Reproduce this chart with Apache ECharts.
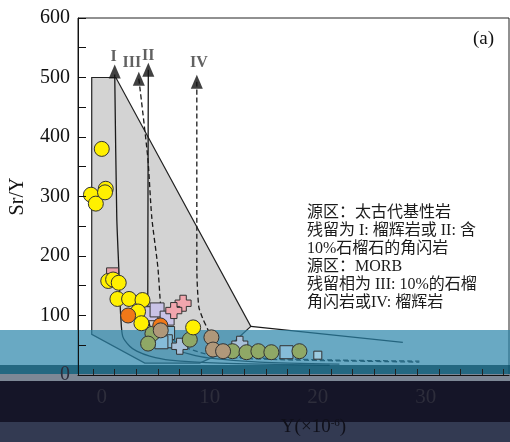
<!DOCTYPE html>
<html><head><meta charset="utf-8">
<script src="https://cdn.jsdelivr.net/npm/echarts@6/dist/echarts.min.js"></script>
<style>html,body{margin:0;padding:0;background:#fff}#c{width:510px;height:442px}</style>
</head><body><div id="c"></div>
<script>
// ---- data (x = Y ppm, y = Sr/Y) ----
const yellowPts = [[0,380],[-1.0,303],[-0.55,288],[0.37,313],[0.3,307],[0.6,158],[1.05,160.5],[1.57,155],[1.45,127.8],[2.53,127.8],[3.77,126],[3.36,106.7],[3.67,87],[8.46,80]];
const orangePts = [[2.44,100],[5.42,83.3]];
const greenPts = [[4.69,69.4],[4.29,52.8],[8.15,59.4],[12.1,40],[13.4,38.3],[14.5,40],[15.7,38.3],[18.3,40]];
const tanPts = [[5.46,75],[10.15,63.3],[10.3,42.8],[11.23,40]];
const lavenderSquares = [[4.55,103],[5.12,109.4],[6.05,95.6]];
const pinkSquares = [[1.0,170]];
const blueSquares = [[6.14,70.6],[5.93,56.7],[5.52,55],[17.1,38.3]];
const smallSquares = [[20.0,33.3]];
const pinkCrosses = [[7.53,120.6],[6.67,108.3]];
const blueCrosses = [[7.22,48.3],[12.78,51.7]];

const fieldPolygon = [[-0.93,500],[1.3,500],[13.8,81.7],[12.4,58.3],[11.1,36.7],[9.07,20],[3.98,20],[-0.93,68.3]];
const fieldTail = [[13.8,81.7],[27.87,55]];
const curveI = [[1.2,505],[1.39,265],[1.57,181.7],[1.67,131.7],[1.76,98.3],[1.94,65],[2.59,48.3],[3.24,40],[4.44,31.7],[6.3,25],[10.93,20],[21.1,16.7]];
const curveII = [[4.31,513],[4.28,300],[4.26,131.7],[4.35,90],[4.91,65],[6.48,45],[8.15,35],[10.0,28.3],[14.6,21.7],[22.0,18.3]];
const curveIII = [[3.43,498],[4.26,365],[4.63,265],[5.19,181.7],[5.46,115],[5.74,81.7],[6.76,56.7],[7.96,45],[9.72,35],[12.8,28.3],[18.3,25],[29.4,21.7]];
const curveIV = [[8.8,493],[8.8,181.7],[8.98,115],[9.35,95],[9.81,76.7],[10.28,56.7],[10.74,40],[11.85,31.7],[14.63,28.3],[22.0,25],[29.4,23.3]];
const arrowNames = ['I','II','III','IV'];
const arrowPts = [[1.2,510],[4.31,513],[3.43,498],[8.8,493]];

const xLabelValues = [0,10,20,30];
const xTickValues = [-0.8,1.2,3.2,5.2,7.2,9.2,11.2,13.2,15.2,17.2,19.2,21.2,23.2,25.2,27.2,29.2,31.2,33.2,35.2,37.2];
const yLabelValues = [0,100,200,300,400,500,600];
const yTickValues = [0,50,100,150,200,250,300,350,400,450,500,550,600];
const noteLines = ['源区：太古代基性岩','残留为 I: 榴辉岩或 II: 含','10%石榴石的角闪岩','源区：MORB','残留相为 III: 10%的石榴','角闪岩或IV: 榴辉岩'];

// ---- styles ----
const FONT = "'Liberation Serif','Noto Sans CJK SC',serif";
const CROSS = 'path://M3,0H7V3H10V7H7V10H3V7H0V3H3Z';
const arrowOffsets = [[-1,-15],[0,-14],[-7,-16],[2,-19]];

function curve(data, dashed){
  return {type:'line', data, z:2, symbol:'none', smooth:0.25, silent:true,
    lineStyle:{color:'#1a1a1a', width:1.3, type: dashed ? [5,3] : 'solid'}};
}
function pts(data, symbol, size, color, z){
  return {type:'scatter', data, symbol, symbolSize:size, z: z||4, silent:true,
    itemStyle:{color, borderColor:'#333', borderWidth:1, opacity:1}};
}

const chart = echarts.init(document.getElementById('c'), null, {renderer:'canvas'});
chart.setOption({
  animation:false,
  backgroundColor:'#fff',
  grid:{left:78, right:1, top:18, bottom:64, show:true, borderColor:'#222', borderWidth:1},
  xAxis:{type:'value', min:-2.2, max:37.7, z:8,
    axisLine:{show:true, onZero:false, lineStyle:{color:'#111', width:1}},
    axisTick:{show:true, inside:true, length:6, customValues:xTickValues, lineStyle:{color:'#222'}},
    axisLabel:{customValues:xLabelValues, color:'#2d2d3b', fontSize:21, fontFamily:FONT, margin:12},
    splitLine:{show:false},
    name:'Y(×10{sup|-6})', nameLocation:'middle', nameGap:43,
    nameTextStyle:{color:'#10101a', fontSize:19, fontFamily:FONT, padding:[0,0,0,40],
      rich:{sup:{fontSize:11, fontFamily:FONT, color:'#10101a', verticalAlign:'top', padding:[0,0,8,0]}}}
  },
  yAxis:{type:'value', min:0, max:600, z:8,
    axisLine:{show:true, onZero:false, lineStyle:{color:'#111', width:1}},
    axisTick:{show:true, inside:true, length:8, customValues:yTickValues, lineStyle:{color:'#111'}},
    axisLabel:{customValues:yLabelValues, fontSize:20, fontFamily:FONT, margin:8,
      color:(v)=> (Number(v)===0 ? '#2d2d3b' : '#111')},
    splitLine:{show:false},
    name:'Sr/Y', nameLocation:'middle', nameGap:50, nameRotate:90,
    nameTextStyle:{color:'#111', fontSize:20, fontFamily:FONT}
  },
  series:[
    {type:'custom', z:1, silent:true, data:[[0,0]],
      renderItem:(params, api)=>({type:'polygon',
        shape:{points: fieldPolygon.map(p=>api.coord(p))},
        style:{fill:'#d3d3d3', stroke:'#222', lineWidth:1.2}})},
    curve(fieldTail,false),
    curve(curveI,false), curve(curveII,false), curve(curveIII,true), curve(curveIV,true),
    pts(pinkSquares,'rect',12,'#eaa2ab'),
    pts(lavenderSquares,'rect',14,'#c9c3e6'),
    pts(blueSquares,'rect',13,'#86bcd8'),
    pts(smallSquares,'rect',8,'#9ccbe0'),
    pts(pinkCrosses,CROSS,16,'#f2a6ae'),
    pts(blueCrosses,CROSS,16,'#a9c1d9'),
    pts(greenPts,'circle',15,'#8fa866'),
    pts(yellowPts,'circle',15,'#fff000'),
    pts(orangePts,'circle',15,'#f07818'),
    pts(tanPts,'circle',15,'#b0987a'),
    {type:'scatter', z:4, silent:true, symbol:'triangle', symbolSize:[12,14],
      itemStyle:{color:'#111'},
      data: arrowPts.map((p,i)=>({value:p, name:arrowNames[i],
        label:{show:true, position:'inside', offset:arrowOffsets[i], formatter:arrowNames[i],
          color:'#3a3a3a', fontWeight:'bold', fontSize:16, fontFamily:FONT}}))}
  ],
  graphic:[
    {type:'rect', z:3, silent:true, shape:{x:0,y:330,width:510,height:35}, style:{fill:'rgba(42,132,169,0.7)'}},
    {type:'rect', z:5, silent:true, shape:{x:0,y:365,width:510,height:9}, style:{fill:'rgba(12,88,115,0.9)'}},
    {type:'rect', z:5, silent:true, shape:{x:0,y:374,width:510,height:7}, style:{fill:'#7d8896'}},
    {type:'rect', z:6, silent:true, shape:{x:0,y:381,width:510,height:41}, style:{fill:'#151528'}},
    {type:'rect', z:6, silent:true, shape:{x:0,y:422,width:510,height:20}, style:{fill:'#333a52'}},
    {type:'text', z:7, silent:true, left:307, top:204,
      style:{text:noteLines.join('\n'), font:"16px 'Liberation Serif','Noto Sans CJK SC',serif", lineHeight:18, fill:'#1a1a1a'}},
    {type:'text', z:7, silent:true, left:473, top:30,
      style:{text:'(a)', font:"19px 'Liberation Serif',serif", fill:'#111'}}
  ]
});
</script></body></html>
